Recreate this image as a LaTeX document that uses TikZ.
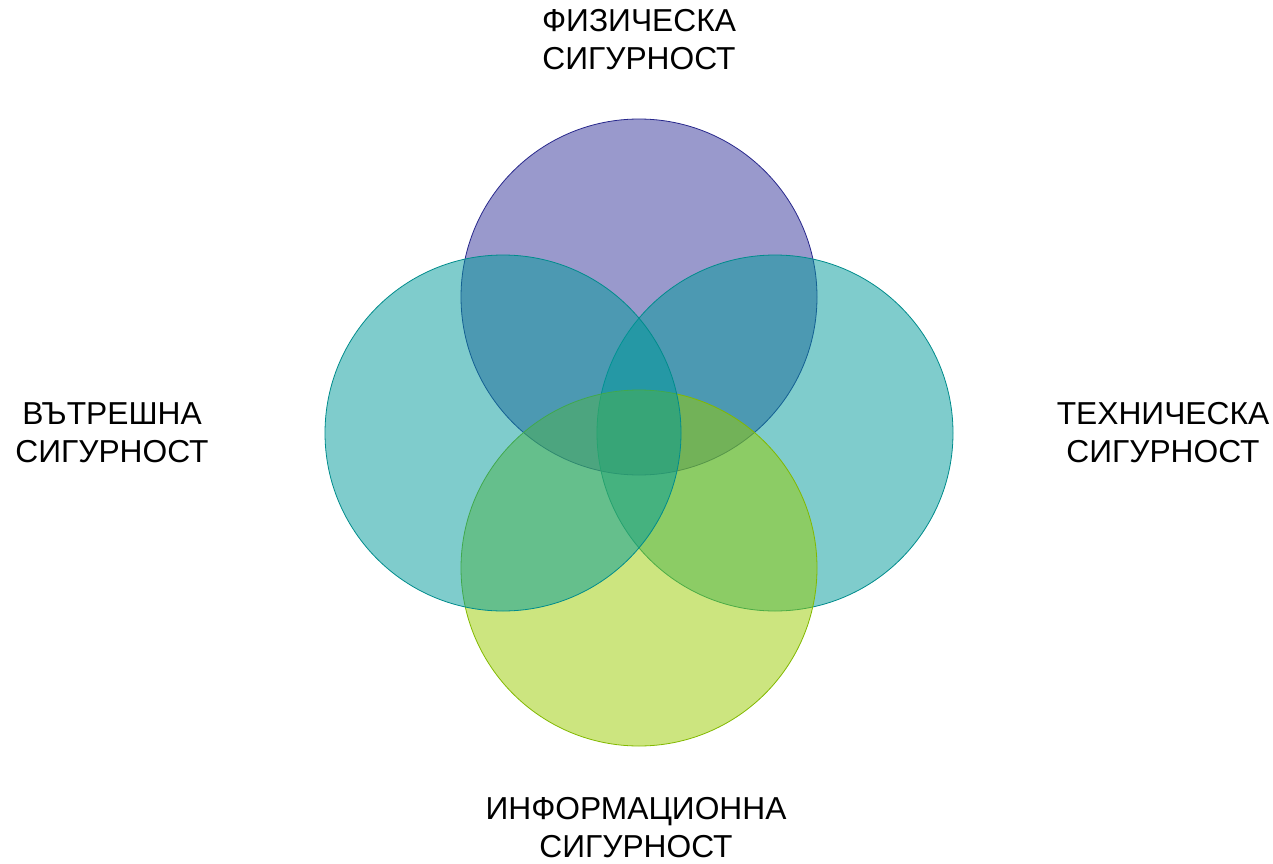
\documentclass[tikz,border=0pt]{standalone}
\usepackage{fontspec}
\setmainfont{Liberation Sans}
\definecolor{physblue}{RGB}{51,51,153}
\definecolor{physedge}{RGB}{40,40,140}
\definecolor{intteal}{RGB}{0,153,153}
\definecolor{intedge}{RGB}{0,140,140}
\definecolor{infogreen}{RGB}{153,204,0}
\definecolor{infoedge}{RGB}{130,185,0}
\tikzset{
  ring/.style={circle, minimum size=267pt, inner sep=0pt, fill opacity=0.5, draw opacity=1, line width=0.6pt},
  caption/.style={align=center, inner sep=0pt, font=\fontsize{23.8}{28.5}\selectfont}
}
\begin{document}
\begin{tikzpicture}[x=0.75pt,y=0.75pt,yscale=-1,xscale=1]
            \useasboundingbox (0,0) rectangle (1273,863);
            %Shape: Circles (clockwise from the top)
            \node [ring, draw=physedge, fill=physblue] (phys) at (639,297) {};
            \node [ring, draw=intedge, fill=intteal] (tech) at (775,433) {};
            \node [ring, draw=infoedge, fill=infogreen] (info) at (639,568) {};
            \node [ring, draw=intedge, fill=intteal] (inner) at (503,433) {};
            
            % Text Node
            \node [caption] (physlbl) at (639,40) {ФИЗИЧЕСКА\\СИГУРНОСТ};
            % Text Node
            \node [caption] (innerlbl) at (112,433) {ВЪТРЕШНА\\СИГУРНОСТ};
            % Text Node
            \node [caption] (techlbl) at (1163,433) {ТЕХНИЧЕСКА\\СИГУРНОСТ};
            % Text Node
            \node [caption] (infolbl) at (636,828) {ИНФОРМАЦИОННА\\СИГУРНОСТ};
        \end{tikzpicture}
\end{document}
